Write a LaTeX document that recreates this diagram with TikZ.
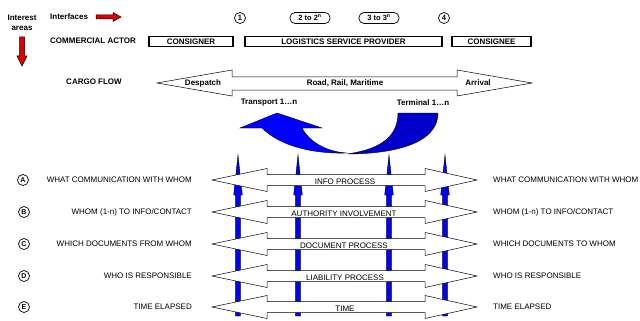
\documentclass[tikz,border=0pt]{standalone}
\usepackage{fontspec}
\setmainfont{Liberation Sans}
\definecolor{darkblue}{RGB}{0,0,204}
\definecolor{arrowred}{RGB}{225,0,0}
\newcommand\procarrow[1]{\draw[whitearrow] (212,#1) -- (267,#1-11.5) -- (267,#1-5.5) -- (425,#1-5.5) -- (425,#1-11.5) -- (477,#1) -- (425,#1+11.5) -- (425,#1+5.5) -- (267,#1+5.5) -- (267,#1+11.5) -- cycle;}
\begin{document}
\begin{tikzpicture}[x=1pt,y=-1pt,
  txt/.style={font=\fontsize{8}{9}\selectfont, inner sep=0pt},
  btxt/.style={font=\fontsize{8}{9}\selectfont\bfseries, inner sep=0pt},
  actor/.style={draw, line width=1.4pt, minimum height=10pt, inner sep=0pt, font=\fontsize{8}{9}\selectfont\bfseries},
  iface/.style={draw, line width=0.7pt, minimum height=11pt, inner sep=0pt, font=\fontsize{7.5}{8}\selectfont\bfseries},
  circlab/.style={circle, draw, line width=0.7pt, minimum size=11pt, inner sep=0pt, font=\fontsize{7}{7}\selectfont\bfseries},
  whitearrow/.style={draw=black, line width=0.5pt, fill=white},
  bluebar/.style={draw=black, line width=0.4pt, fill=blue},
  redarrow/.style={draw=black, line width=0.5pt, fill=arrowred},
  curvebright/.style={draw=black, line width=0.4pt, fill=blue},
  curvedark/.style={draw=black, line width=0.4pt, fill=darkblue},
]
\useasboundingbox (0,0) rectangle (640,321);

% header
\node[btxt, align=center] (interest) at (22,23) {Interest\\[1pt]areas};
\draw[redarrow] (19.5,37) -- (24.5,37) -- (24.5,56) -- (27,56) -- (22,66) -- (17,56) -- (19.5,56) -- cycle;
\node[btxt, anchor=west] (interfaces) at (50,17) {Interfaces};
\draw[redarrow] (96,15) -- (113,15) -- (113,12.5) -- (121,17) -- (113,21.5) -- (113,19) -- (96,19) -- cycle;

\node[iface, circle, minimum size=11pt] (if1) at (240,18) {1};
\node[iface, rounded corners=5pt, minimum width=40pt] (if2) at (310,18) {2 to 2\textsuperscript{n}};
\node[iface, rounded corners=5pt, minimum width=40pt] (if3) at (379,18) {3 to 3\textsuperscript{n}};
\node[iface, circle, minimum size=11pt] (if4) at (444,18) {4};

\node[btxt, anchor=west] (commercial) at (50,41) {COMMERCIAL ACTOR};
\node[actor, minimum width=84pt] (consigner) at (191,41.5) {CONSIGNER};
\node[actor, minimum width=197pt] (lsp) at (343.5,41.5) {LOGISTICS SERVICE PROVIDER};
\node[actor, minimum width=79pt] (consignee) at (491.5,41.5) {CONSIGNEE};

% cargo flow
\node[btxt] (cargo) at (94,82) {CARGO FLOW};
\draw[whitearrow] (157,83) -- (232,70) -- (232,77) -- (457,77) -- (457,70) -- (532,83) -- (457,96) -- (457,90) -- (232,90) -- (232,96) -- cycle;
\node[btxt] (despatch) at (203,83) {Despatch};
\node[btxt] (road) at (345,83) {Road, Rail, Maritime};
\node[btxt] (arrival) at (478,83) {Arrival};
\node[btxt] (transport) at (269,103) {Transport 1…n};
\node[btxt] (terminal) at (423,103) {Terminal 1…n};

% curved arrow
\draw[curvedark] (398,113) -- (438,113) .. controls (438,145) and (390,154) .. (347,154) .. controls (375,150) and (398,140) .. (398,113) -- cycle;
\draw[curvebright] (240,128) -- (277,113) -- (322,128) -- (302,128) .. controls (310,143) and (328,152) .. (347,153) .. controls (318,154) and (282,148) .. (262,128) -- cycle;

% vertical blue arrows
\foreach \x in {238,298,389,445} {
  \draw[bluebar] (\x-2.4,316) -- (\x-2.4,195) -- (\x-4.3,195) -- (\x,155) -- (\x+4.3,195) -- (\x+2.4,195) -- (\x+2.4,316) -- cycle;
}

% process arrows
\procarrow{180}
\procarrow{212}
\procarrow{244}
\procarrow{276}
\procarrow{307}
\node[txt, anchor=base] (pA) at (345,184) {INFO PROCESS};
\node[txt, anchor=base] (pB) at (344,216) {AUTHORITY INVOLVEMENT};
\node[txt, anchor=base] (pC) at (344,248) {DOCUMENT PROCESS};
\node[txt, anchor=base] (pD) at (345,280) {LIABILITY PROCESS};
\node[txt, anchor=base] (pE) at (345,311) {TIME};

% row markers
\node[circlab] (cA) at (23,180) {A};
\node[circlab] (cB) at (24,212) {B};
\node[circlab] (cC) at (24,244) {C};
\node[circlab] (cD) at (24,276) {D};
\node[circlab] (cE) at (24,307) {E};

% left labels
\node[txt, anchor=east] (lA) at (192,180) {WHAT COMMUNICATION WITH WHOM};
\node[txt, anchor=east] (lB) at (192,212) {WHOM (1-n) TO INFO/CONTACT};
\node[txt, anchor=east] (lC) at (192,244) {WHICH DOCUMENTS FROM WHOM};
\node[txt, anchor=east] (lD) at (192,276) {WHO IS RESPONSIBLE};
\node[txt, anchor=east] (lE) at (192,307) {TIME ELAPSED};

% right labels
\node[txt, anchor=west] (rA) at (493,180) {WHAT COMMUNICATION WITH WHOM};
\node[txt, anchor=west] (rB) at (493,212) {WHOM (1-n) TO INFO/CONTACT};
\node[txt, anchor=west] (rC) at (493,244) {WHICH DOCUMENTS TO WHOM};
\node[txt, anchor=west] (rD) at (493,276) {WHO IS RESPONSIBLE};
\node[txt, anchor=west] (rE) at (493,307) {TIME ELAPSED};
\end{tikzpicture}
\end{document}
